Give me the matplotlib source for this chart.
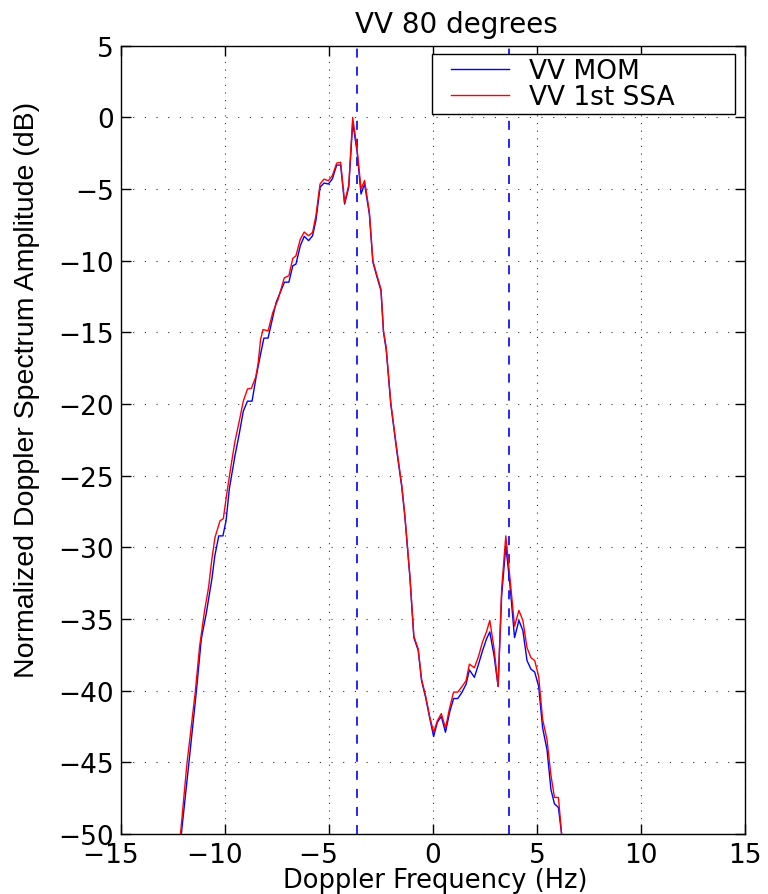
import matplotlib
matplotlib.use("Agg")
import matplotlib.pyplot as plt
from matplotlib import font_manager
from matplotlib.legend_handler import HandlerLine2D

# ---------------- data ----------------
title_text = "VV 80 degrees"
xlabel_text = "Doppler Frequency (Hz)"
ylabel_text = "Normalized Doppler Spectrum Amplitude (dB)"
series_names = ["VV MOM", "VV 1st SSA"]

xticks = [-15, -10, -5, 0, 5, 10, 15]
yticks = [5, 0, -5, -10, -15, -20, -25, -30, -35, -40, -45, -50]

marker_freqs = [-3.66, 3.66]   # dashed vertical reference lines (Hz)

freq_ssa = [-12.14, -11.83, -11.43, -11.22, -10.98, -10.79, -10.63, -10.48,
            -10.24, -10.08, -9.92, -9.71, -9.52, -9.33, -9.12, -8.92, -8.73,
            -8.52, -8.41, -8.29, -8.17, -7.93, -7.70, -7.45, -7.15, -6.93,
            -6.74, -6.59, -6.38, -6.19, -5.98, -5.79, -5.63, -5.43, -5.24,
            -5.03, -4.84, -4.63, -4.44, -4.25, -4.05, -3.86, -3.65, -3.46,
            -3.29, -3.06, -2.89, -2.70, -2.50, -2.38, -2.25, -2.03, -1.74,
            -1.50, -1.35, -1.11, -0.92, -0.71, -0.55, -0.35, -0.16, 0.03,
            0.21, 0.40, 0.60, 0.80, 0.99, 1.19, 1.40, 1.59, 1.75, 1.99, 2.19,
            2.38, 2.57, 2.73, 2.94, 3.13, 3.30, 3.50, 3.69, 3.92, 4.13, 4.32,
            4.52, 4.71, 4.89, 5.08, 5.27, 5.48, 5.67, 5.84, 6.03, 6.19]
ssa_db = [-50.0, -45.1, -40.1, -36.9, -34.4, -32.8, -30.8, -29.3,
          -28.15, -28.0, -26.3, -24.3, -22.6, -21.3, -19.8, -18.95, -18.9,
          -18.1, -17.2, -15.5, -14.8, -14.9, -13.6, -12.7, -11.2, -11.05,
          -9.84, -9.66, -8.5, -8.0, -8.26, -8.03, -6.87, -4.65, -4.31,
          -4.42, -4.07, -3.19, -3.14, -5.93, -4.72, 0.0, -2.2, -5.0,
          -4.4, -6.6, -10.0, -11.0, -12.0, -14.9, -16.05, -19.9, -23.15,
          -25.7, -27.8, -32.0, -36.2, -37.1, -39.2, -40.4, -41.8, -42.9,
          -42.1, -41.6, -42.6, -41.2, -40.1, -40.1, -39.7, -39.3, -38.15,
          -38.4, -37.6, -36.6, -35.9, -35.1, -37.1, -39.7, -32.9, -29.2,
          -32.0, -35.5, -34.4, -35.1, -37.0, -37.7, -37.9, -39.0, -42.0,
          -43.4, -45.9, -47.45, -47.45, -50.1]

freq_mom = [-12.10, -11.74, -11.38, -11.14, -10.90, -10.63, -10.49, -10.30,
            -10.10, -9.95, -9.79, -9.52, -9.33, -9.12, -8.92, -8.70, -8.49,
            -8.30, -8.13, -7.93, -7.54, -7.14, -6.93, -6.74, -6.59, -6.38,
            -6.19, -5.98, -5.79, -5.63, -5.43, -5.24, -5.03, -4.84, -4.63,
            -4.44, -4.25, -4.05, -3.86, -3.65, -3.46, -3.29, -3.06, -2.89,
            -2.70, -2.50, -2.38, -2.25, -2.03, -1.74, -1.50, -1.35, -1.11,
            -0.92, -0.71, -0.55, -0.35, -0.16, 0.03, 0.21, 0.40, 0.60, 0.80,
            0.99, 1.19, 1.40, 1.59, 1.75, 1.99, 2.19, 2.38, 2.57, 2.73, 2.94,
            3.13, 3.30, 3.50, 3.69, 3.92, 4.13, 4.32, 4.52, 4.71, 4.89, 5.08,
            5.27, 5.48, 5.67, 5.84, 6.03, 6.19]
mom_db = [-50.0, -45.1, -40.1, -36.4, -34.6, -32.2, -30.6, -29.2,
          -29.2, -28.15, -25.9, -23.6, -22.2, -20.5, -19.8, -19.8, -18.0,
          -16.6, -15.4, -15.4, -12.9, -11.5, -11.5, -10.35, -10.24, -8.96,
          -8.3, -8.6, -8.26, -7.2, -4.88, -4.58, -4.65, -4.3, -3.33,
          -3.33, -6.05, -4.88, -0.35, -2.4, -5.35, -4.65, -6.74, -10.1,
          -11.1, -12.1, -15.0, -16.2, -20.0, -23.3, -25.8, -27.9, -32.1,
          -36.3, -37.2, -39.3, -40.5, -41.9, -43.2, -42.2, -41.8, -42.9, -41.5,
          -40.55, -40.55, -40.1, -39.55, -38.55, -39.07, -38.15, -37.22, -36.4, -35.9, -37.6,
          -39.7, -33.4, -29.9, -32.45, -36.3, -35.1, -35.8, -37.9, -38.5, -38.7, -39.7,
          -42.6, -44.1, -46.9, -47.9, -48.15, -50.1]

# ---------------- figure ----------------
plt.rcParams['font.family'] = ['DejaVu Sans']
plt.rcParams['lines.scale_dashes'] = False

fig = plt.figure(figsize=(7.68, 8.95), dpi=100)
AX_L, AX_R, AX_T, AX_B = 121, 745, 46.7, 835
ax = fig.add_axes([AX_L / 768, 1 - AX_B / 895, (AX_R - AX_L) / 768, (AX_B - AX_T) / 895])
axw, axh = AX_R - AX_L, AX_B - AX_T
PX = 72 / 100  # points per pixel

for xf in marker_freqs:
    ax.axvline(xf, color='#0000ff', lw=1.2, linestyle=(0, (6.5, 6.5)), zorder=2)

ax.plot(freq_mom, mom_db, color='#0000ff', lw=1.0, label=series_names[0], zorder=3)
ax.plot(freq_ssa, ssa_db, color='#ff0000', lw=1.0, label=series_names[1], zorder=4)

ax.set_xlim(-15, 15)
ax.set_ylim(-50, 5)
ax.set_xticks(xticks)
# negative labels: digits centred on the tick, minus sign hanging to the left
# (a trailing space about as wide as the minus sign balances it)
ax.set_xticklabels([("\u2212%d" % -v + "\u2002\u2009\u200a") if v < 0 else "%d" % v
                    for v in xticks])
ax.set_yticks(yticks)

ax.xaxis.grid(True, color='#333333', lw=0.8, linestyle=(0, (0.8, 4.7)))
ax.yaxis.grid(True, color='#333333', lw=0.8, linestyle=(0, (0.8, 7.6)))
ax.set_axisbelow(True)

ax.tick_params(direction='in', length=7, width=1.0, top=True, right=True,
               labelsize=19)
ax.tick_params(axis='x', pad=6)
ax.tick_params(axis='y', pad=5)
for s in ax.spines.values():
    s.set_linewidth(1.0)

ax.set_title(title_text, fontsize=20, pad=10, x=(456 - AX_L) / axw)

ax.set_xlabel(xlabel_text, fontsize=18.5)
ax.xaxis.label.set_va('baseline')
ax.xaxis.set_label_coords((435 - AX_L) / axw, (AX_B - 888.5) / axh)

avail = {f.name for f in font_manager.fontManager.ttflist}
yl_family = ['Liberation Sans', 'DejaVu Sans'] if 'Liberation Sans' in avail else ['DejaVu Sans']
ax.set_ylabel(ylabel_text, fontsize=20.5, family=yl_family)
ax.yaxis.set_label_coords((40 - AX_L) / axw, (AX_B - 390) / axh)


class ShiftedLineHandler(HandlerLine2D):
    """Legend line drawn with an extra left offset (points) inside the handle box."""
    def __init__(self, shift, **kw):
        super().__init__(**kw)
        self.shift = shift

    def create_artists(self, legend, orig_handle, xdescent, ydescent, width,
                       height, fontsize, trans):
        return super().create_artists(legend, orig_handle, xdescent - self.shift,
                                      ydescent, width - self.shift, height,
                                      fontsize, trans)


# legend box spans x 432..735, top at y 55 (pixels)
lx0 = (432 - AX_L) / axw
lx1 = (735 - AX_L) / axw
ly1 = (AX_B - 55) / axh
handles, labels = ax.get_legend_handles_labels()
LEG_FS = 19
fs_px = LEG_FS / PX
hmap = {h: ShiftedLineHandler(15 * PX) for h in handles}
leg = ax.legend(handles, labels, loc='upper left',
                bbox_to_anchor=(lx0, ly1 - 0.2, lx1 - lx0, 0.2),
                mode='expand', borderaxespad=0, fontsize=LEG_FS,
                handlelength=73 / fs_px, handletextpad=20 / fs_px,
                labelspacing=0.0, borderpad=0.15, handler_map=hmap,
                fancybox=False, framealpha=1, edgecolor='k')
leg.get_frame().set_linewidth(1.0)

fig.savefig("out.png", dpi=100)
